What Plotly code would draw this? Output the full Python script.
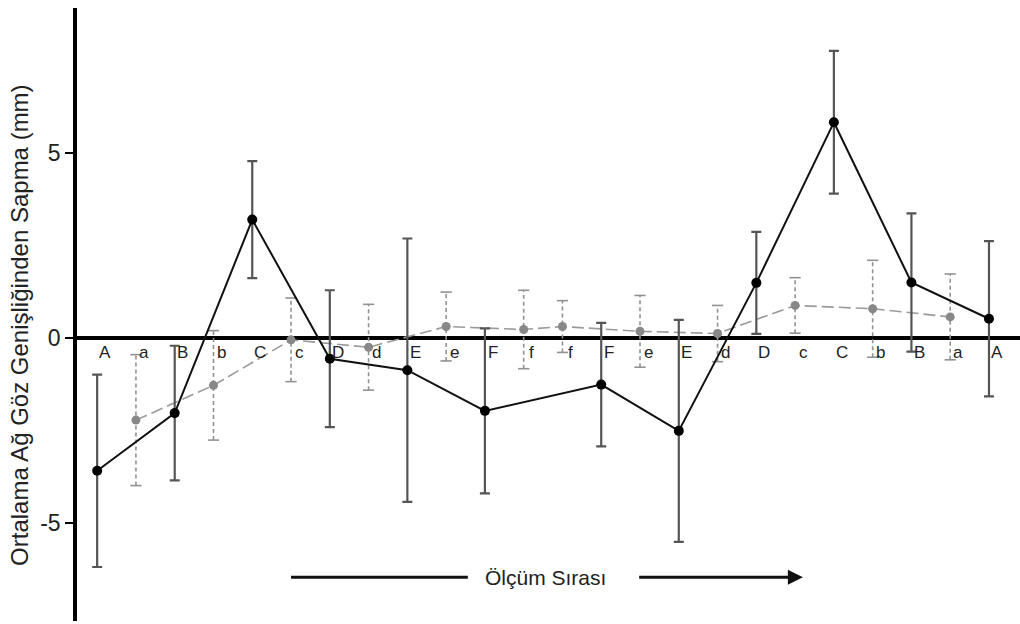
import plotly.graph_objects as go

# ---- data ----
black_labels = ["A", "B", "C", "D", "E", "F", "F", "E", "D", "C", "B", "A"]
black_pos = [0, 2, 4, 6, 8, 10, 13, 15, 17, 19, 21, 23]
black_mean = [-3.58, -2.02, 3.21, -0.55, -0.86, -1.96, -1.25, -2.50, 1.50, 5.84, 1.51, 0.53]
black_err = [2.60, 1.82, 1.58, 1.85, 3.56, 2.23, 1.67, 3.00, 1.38, 1.93, 1.87, 2.10]

gray_labels = ["a", "b", "c", "d", "e", "f", "f", "e", "d", "c", "b", "a"]
gray_pos = [1, 3, 5, 7, 9, 11, 12, 14, 16, 18, 20, 22]
gray_mean = [-2.21, -1.27, -0.04, -0.24, 0.32, 0.24, 0.32, 0.19, 0.13, 0.89, 0.80, 0.58]
gray_err = [1.77, 1.48, 1.13, 1.16, 0.93, 1.06, 0.70, 0.97, 0.76, 0.75, 1.31, 1.16]

y_ticks = [-5, 0, 5]
y_tick_text = ["-5", "0", "5"]
y_title = "Ortalama Ağ Göz Genişliğinden Sapma (mm)"
order_label = "Ölçüm Sırası"

FONT = "Arial, Liberation Sans, sans-serif"

fig = go.Figure()

# gray dashed error bars (vertical segments)
seg_x, seg_y = [], []
cap_x, cap_y = [], []
for x, m, e in zip(gray_pos, gray_mean, gray_err):
    seg_x += [x, x, None]
    seg_y += [m - e, m + e, None]
    cap_x += [x, x]
    cap_y += [m - e, m + e]

fig.add_trace(go.Scatter(x=seg_x, y=seg_y, mode="lines",
                         line=dict(color="#929292", width=1.6, dash="4px,3px"),
                         hoverinfo="skip", showlegend=False))
fig.add_trace(go.Scatter(x=cap_x, y=cap_y, mode="markers",
                         marker=dict(symbol="line-ew", size=8,
                                     line=dict(color="#929292", width=1.6)),
                         hoverinfo="skip", showlegend=False))

# gray series
fig.add_trace(go.Scatter(x=gray_pos, y=gray_mean, mode="lines+markers",
                         line=dict(color="#9a9a9a", width=1.6, dash="12px,5px"),
                         marker=dict(color="#888888", size=9),
                         showlegend=False))

# black series
fig.add_trace(go.Scatter(x=black_pos, y=black_mean, mode="lines+markers",
                         line=dict(color="#111111", width=2),
                         marker=dict(color="#000000", size=10),
                         error_y=dict(type="data", array=black_err, visible=True,
                                      color="#555555", thickness=2.2, width=5),
                         showlegend=False))

# letter labels below zero line
for x, lab in zip(black_pos + gray_pos, black_labels + gray_labels):
    fig.add_annotation(x=x, y=0, text=lab, showarrow=False, xanchor="center",
                       yanchor="top", xshift=8, yshift=-3,
                       font=dict(family=FONT, size=17, color="#222"))

# measurement order arrow
ARROW_Y = -6.46
fig.add_shape(type="line", x0=5.0, x1=9.56, y0=ARROW_Y, y1=ARROW_Y,
              line=dict(color="#111", width=3))
fig.add_annotation(x=18.2, y=ARROW_Y, ax=13.94, ay=ARROW_Y, axref="x", ayref="y",
                   xref="x", yref="y", showarrow=True, arrowhead=2,
                   arrowsize=1, arrowwidth=3, arrowcolor="#111", text="")
fig.add_annotation(x=11.55, y=ARROW_Y, text=order_label, showarrow=False,
                   font=dict(family=FONT, size=21, color="#222"))

# y-axis title as rotated annotation
fig.add_annotation(xref="paper", yref="paper", x=0, y=0.483, xshift=-57,
                   text=y_title, textangle=-90, showarrow=False,
                   xanchor="center", yanchor="middle",
                   font=dict(family=FONT, size=24, color="#222"))

fig.update_layout(
    width=1020, height=624,
    margin=dict(l=77, r=0, t=8, b=3),
    plot_bgcolor="white", paper_bgcolor="white",
    font=dict(family=FONT, color="#222"),
    xaxis=dict(range=[-0.52, 23.8], showgrid=False, zeroline=False,
               showticklabels=False, ticks="", showline=False, automargin=False),
    yaxis=dict(range=[-7.64, 8.93], tickvals=y_ticks, ticktext=y_tick_text,
               showgrid=False, automargin=False,
               zeroline=True, zerolinecolor="#000", zerolinewidth=3.5,
               showline=True, linecolor="#000", linewidth=3.5,
               ticks="outside", ticklen=8, tickwidth=1.5, tickcolor="#000",
               tickfont=dict(family=FONT, size=23, color="#222")),
)

fig.write_html("out.html", config={"displayModeBar": False},
               post_script="document.body.style.margin='0px';")
